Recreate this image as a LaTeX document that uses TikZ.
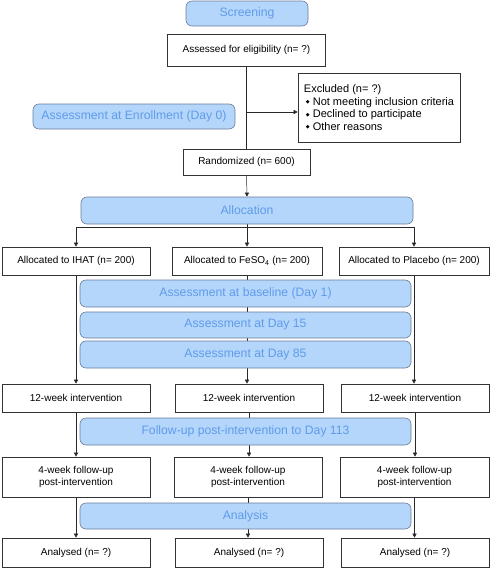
\documentclass[tikz,border=0pt]{standalone}
\usepackage{fontspec}
\setmainfont{Liberation Sans}
\newfontfamily\dejavu{DejaVu Sans}
\usetikzlibrary{arrows.meta,backgrounds}
\definecolor{bfill}{RGB}{180,214,250}
\definecolor{bdraw}{RGB}{105,125,155}
\definecolor{btext}{RGB}{95,155,235}
\definecolor{lcol}{RGB}{40,40,40}
\newcommand{\exbul}{{\dejavu\fontsize{5}{5}\selectfont\raisebox{1.2pt}{◆}}\hspace{3pt}}
\begin{document}
\begin{tikzpicture}[x=1pt,y=-1pt,
 wbox/.style={draw=black!80, line width=0.6pt, fill=white, inner sep=0pt, font=\fontsize{10}{12}\selectfont, align=center},
 bbox/.style={draw=bdraw, line width=0.6pt, fill=bfill, rounded corners=6pt, inner sep=0pt, text=btext, font=\fontsize{12.2}{14}\selectfont},
 conn/.style={draw=lcol, line width=0.5pt},
 arr/.style={conn, -{Triangle[length=4pt,width=4pt]}}]
\useasboundingbox (0,0) rectangle (491,568);

\node[bbox, minimum width=122pt, minimum height=25pt] (scr) at (247,13.5) {Screening};
\node[wbox, minimum width=158pt, minimum height=32pt] (elig) at (246.5,50) {Assessed for eligibility (n= ?)};
\node[wbox, minimum width=162pt, minimum height=69pt, align=left, font=\fontsize{11}{12.5}\selectfont] (excl) at (379,107.5)
 {Excluded (n= ?)\\\hspace{2pt}\exbul Not meeting inclusion criteria\\\hspace{2pt}\exbul Declined to participate\\\hspace{2pt}\exbul Other reasons};
\node[bbox, minimum width=202pt, minimum height=25pt] (enr) at (134,116.5) {Assessment at Enrollment (Day 0)};
\node[wbox, minimum width=127pt, minimum height=26pt] (rand) at (246.5,162) {Randomized (n= 600)};
\node[bbox, minimum width=332pt, minimum height=27pt] (alloc) at (247,210.5) {Allocation};

\node[wbox, minimum width=148pt, minimum height=28pt] (a1) at (76,261) {Allocated to IHAT (n= 200)};
\node[wbox, minimum width=150pt, minimum height=28pt] (a2) at (247,261) {Allocated to FeSO\textsubscript{4} (n= 200)};
\node[wbox, minimum width=150pt, minimum height=28pt] (a3) at (414,261) {Allocated to Placebo (n= 200)};

\node[bbox, minimum width=331pt, minimum height=27pt] (base) at (245.5,293.5) {Assessment at baseline (Day 1)};
\node[bbox, minimum width=331pt, minimum height=26pt] (d15) at (245.5,325) {Assessment at Day 15};
\node[bbox, minimum width=331pt, minimum height=27pt] (d85) at (245.5,354.5) {Assessment at Day 85};

\node[wbox, minimum width=148pt, minimum height=28pt] (w1) at (76,398) {12-week intervention};
\node[wbox, minimum width=148pt, minimum height=28pt] (w2) at (249,398) {12-week intervention};
\node[wbox, minimum width=148pt, minimum height=28pt] (w3) at (415,398) {12-week intervention};

\node[bbox, minimum width=331pt, minimum height=27pt] (fu) at (245.5,431.5) {Follow-up post-intervention to Day 113};

\node[wbox, minimum width=148pt, minimum height=40pt] (f1) at (76,477) {4-week follow-up\\post-intervention};
\node[wbox, minimum width=148pt, minimum height=40pt] (f2) at (248,477) {4-week follow-up\\post-intervention};
\node[wbox, minimum width=149pt, minimum height=40pt] (f3) at (414.5,477) {4-week follow-up\\post-intervention};

\node[bbox, minimum width=331pt, minimum height=26pt] (an) at (245.5,516) {Analysis};

\node[wbox, minimum width=148pt, minimum height=29pt] (r1) at (76,552.5) {Analysed (n= ?)};
\node[wbox, minimum width=148pt, minimum height=29pt] (r2) at (249,552.5) {Analysed (n= ?)};
\node[wbox, minimum width=148pt, minimum height=29pt] (r3) at (415,552.5) {Analysed (n= ?)};

\coordinate (exc) at (247,112);
\coordinate (split) at (247,227);

\begin{pgfonlayer}{background}
\draw[conn] (elig.south) -- (elig.south |- rand.north);
\draw[arr] (exc) -- (exc -| excl.west);
\draw[arr] (rand.south) -- (alloc.north);
\draw[conn] (alloc.south) -- (split);
\draw[conn] (a1.north |- split) -- (a3.north |- split);
\draw[arr] (a1.north |- split) -- (a1.north);
\draw[arr] (a2.north |- split) -- (a2.north);
\draw[arr] (a3.north |- split) -- (a3.north);
\draw[arr] (a1.south) -- (a1.south |- w1.north);
\draw[arr] (a2.south) -- (a2.south |- w2.north);
\draw[arr] (a3.south) -- (a3.south |- w3.north);
\draw[arr] (w1.south) -- (w1.south |- f1.north);
\draw[arr] (w2.south) -- (w2.south |- f2.north);
\draw[arr] (w3.south) -- (w3.south |- f3.north);
\draw[arr] (f1.south) -- (f1.south |- r1.north);
\draw[arr] (f2.south) -- (f2.south |- r2.north);
\draw[arr] (f3.south) -- (f3.south |- r3.north);
\end{pgfonlayer}
\end{tikzpicture}
\end{document}
